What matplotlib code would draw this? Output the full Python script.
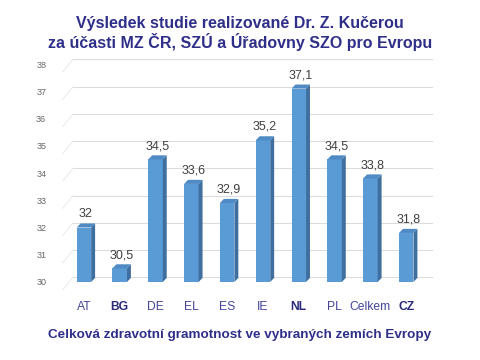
import matplotlib
matplotlib.use("Agg")
import matplotlib.pyplot as plt
from matplotlib.patches import Polygon

plt.rcParams['font.family'] = ['Liberation Sans', 'DejaVu Sans']

categories = ["AT", "BG", "DE", "EL", "ES", "IE", "NL", "PL", "Celkem", "CZ"]
values = [32.0, 30.5, 34.5, 33.6, 32.9, 35.2, 37.1, 34.5, 33.8, 31.8]
labels = ["32", "30,5", "34,5", "33,6", "32,9", "35,2", "37,1", "34,5", "33,8", "31,8"]
bold_cats = ["BG", "NL", "CZ"]
yticks = [30, 31, 32, 33, 34, 35, 36, 37, 38]
title = "Výsledek studie realizované Dr. Z. Kučerou\nza účasti MZ ČR, SZÚ a Úřadovny SZO pro Evropu"
caption = "Celková zdravotní gramotnost ve vybraných zemích Evropy"

front = "#5b9bd5"
side = "#3f6f9e"
topc = "#4f8ac4"
navy = "#2f2f8a"

fig = plt.figure(figsize=(4.8, 3.6), dpi=100)
ax = fig.add_axes([0.131, 0.2167, 0.769, 0.628])
base = 30
x = list(range(len(categories)))
w = 0.405
dx, dy = 0.11, 0.15
goff = 0.17
xl, xr = -0.587, 9.72
ax.set_xlim(xl, xr)
ax.set_ylim(base, 38.3)

# back-wall gridlines with perspective
for t in yticks:
    ax.plot([-0.307, xr], [t + goff, t + goff], color="#dcdcdc", lw=0.8, zorder=0, clip_on=False)
    ax.plot([-0.59, -0.307], [t - 0.29, t + goff], color="#ececec", lw=0.8, zorder=0, clip_on=False)

ax.bar(x, [v - base for v in values], bottom=base, width=w, color=front, zorder=3)
for xi, v, lab in zip(x, values, labels):
    r = xi + w / 2
    l = xi - w / 2
    ax.add_patch(Polygon([(r, base), (r + dx, base + dy), (r + dx, v + dy), (r, v)],
                         closed=True, facecolor=side, edgecolor="none", zorder=3))
    ax.add_patch(Polygon([(l, v), (r, v), (r + dx, v + dy), (l + dx, v + dy)],
                         closed=True, facecolor=topc, edgecolor="none", zorder=3))
    ax.text(xi + dx / 2, v + dy + 0.12, lab, ha="center", va="bottom",
            fontsize=9, color="#404040", zorder=4)

ax.set_yticks(yticks)
ax.set_yticklabels([str(t) for t in yticks], fontsize=6.5, color="#666666")
ax.set_xticks(x)
ax.set_xticklabels(categories, fontsize=8.7)
for tl in ax.get_xticklabels():
    if tl.get_text() in bold_cats:
        tl.set_fontweight("bold")
        tl.set_color("#2b2b7a")
    else:
        tl.set_color("#45459a")
ax.tick_params(axis="both", length=0)
ax.tick_params(axis="x", pad=14)
ax.tick_params(axis="y", pad=12)
for s in ax.spines.values():
    s.set_visible(False)
ax.patch.set_alpha(0)

fig.text(0.5, 0.908, title, ha="center", va="center", fontsize=11.5,
         fontweight="bold", color=navy, linespacing=1.12)
fig.text(0.5, 0.069, caption, ha="center", va="center", fontsize=9.7,
         fontweight="bold", color=navy)

fig.savefig("out.png", dpi=100)
